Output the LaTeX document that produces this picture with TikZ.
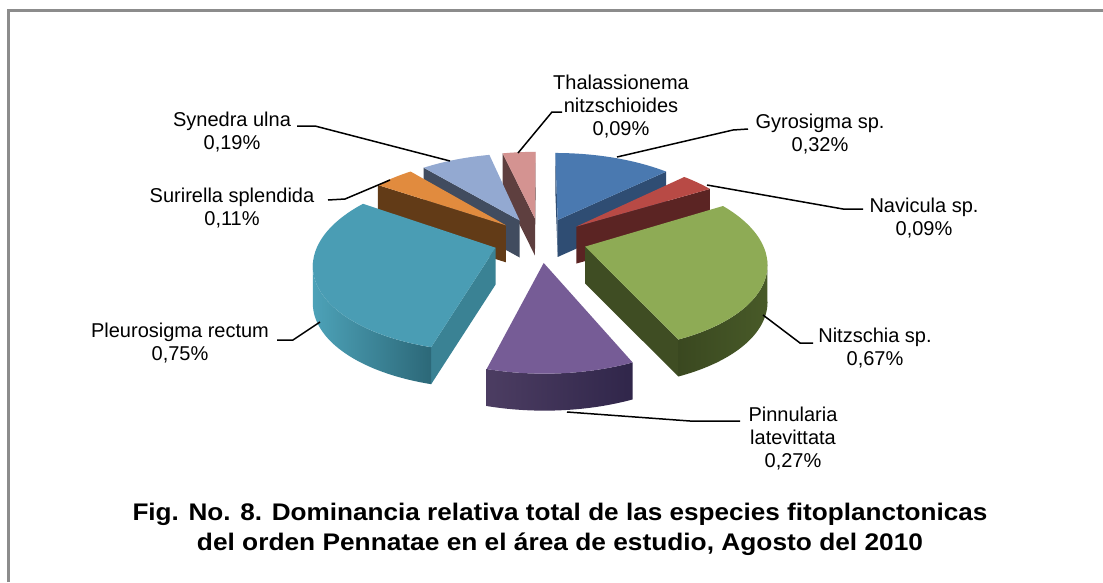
\documentclass[tikz,border=0pt]{standalone}
\usepackage{fontspec}
\setmainfont{Liberation Sans}
\usepackage{graphicx}
\definecolor{bluetop}{HTML}{4A79B0}
\definecolor{blueface}{HTML}{2F4D73}
\definecolor{redtop}{HTML}{B84A45}
\definecolor{redface}{HTML}{5B2423}
\definecolor{greentop}{HTML}{8EAB55}
\definecolor{greenface}{HTML}{3F4D23}
\definecolor{greenrimL}{HTML}{3A4820}
\definecolor{greenrimR}{HTML}{485A28}
\definecolor{purpletop}{HTML}{765C96}
\definecolor{purplerimL}{HTML}{4C3D62}
\definecolor{purplerimR}{HTML}{30264A}
\definecolor{tealtop}{HTML}{4A9DB4}
\definecolor{tealface}{HTML}{3A8294}
\definecolor{tealrimL}{HTML}{4DA2B8}
\definecolor{tealrimR}{HTML}{2C6878}
\definecolor{orangetop}{HTML}{E18B3E}
\definecolor{orangeface}{HTML}{623B17}
\definecolor{lbtop}{HTML}{93A9D1}
\definecolor{lbface}{HTML}{414C5F}
\definecolor{pinktop}{HTML}{D49391}
\definecolor{pinkface}{HTML}{5E3F3F}
\definecolor{framegray}{HTML}{8C8C8C}
\newcommand{\topface}[4]{%
  \fill[#4] ({pxx(0,0,#3)},{pyy(0,0,#3)}) -- plot[domain=#1:#2,samples=40] ({pxx(1,\x,#3)},{pyy(1,\x,#3)}) -- cycle;}
\newcommand{\radface}[3]{%
  \fill[#3] ({pxx(0,0,#2)},{pyy(0,0,#2)}) -- ({pxx(1,#1,#2)},{pyy(1,#1,#2)}) -- ({pxx(1,#1,#2)},{pyy(1,#1,#2)+37}) -- ({pxx(0,0,#2)},{pyy(0,0,#2)+37}) -- cycle;}
\newcommand{\rimface}[4]{%
  \shade[#4] plot[domain=#1:#2,samples=40] ({pxx(1,\x,#3)},{pyy(1,\x,#3)}) -- plot[domain=#2:#1,samples=40] ({pxx(1,\x,#3)},{pyy(1,\x,#3)+37}) -- cycle;}
\begin{document}
\begin{tikzpicture}[x=1pt,y=-1pt,
  declare function={
    pxx(\argr,\argt,\argm)=540+176*(0.266*cos(\argm)+\argr*cos(\argt))/(1+0.164*(0.266*sin(\argm)+\argr*sin(\argt)));
    pyy(\argr,\argt,\argm)=239.7-83.9*(0.266*sin(\argm)+\argr*sin(\argt))/(1+0.164*(0.266*sin(\argm)+\argr*sin(\argt)));
  },
  lbl/.style={font=\fontsize{20}{23}\selectfont, align=center, inner sep=0pt},
  leader/.style={draw=black, line width=1.5pt},
  captext/.style={font=\bfseries\fontsize{24}{28}\selectfont, inner sep=0pt}
]
\useasboundingbox[fill=white] (0,0) rectangle (1103,582);
% frame
\draw[framegray, line width=3pt] (8.5,582) -- (8.5,10.5) -- (1103,10.5);

% pink (Thalassionema)
\radface{103.01}{96.5}{pinkface}
\radface{90}{96.5}{pinkface}
\topface{103.01}{90}{96.5}{pinktop}
% blue (Gyrosigma)
\radface{90}{66.87}{blueface}
\radface{43.73}{66.87}{blueface}
\topface{90}{43.73}{66.87}{bluetop}
% light blue (Synedra)
\radface{130.48}{116.75}{lbface}
\topface{130.48}{103.01}{116.75}{lbtop}
% orange (Surirella)
\radface{146.38}{138.43}{orangeface}
\topface{146.38}{130.48}{138.43}{orangetop}
% red (Navicula)
\radface{30.72}{37.2}{redface}
\topface{43.73}{30.72}{37.2}{redtop}
% green (Nitzschia)
\radface{-66.15}{-17.7}{greenface}
\rimface{-66.15}{-9.5}{-17.7}{left color=greenrimL, right color=greenrimR}
\topface{30.72}{-66.15}{-17.7}{greentop}
% teal (Pleurosigma)
\radface{-105.19}{-159.4}{tealface}
\rimface{-170.5}{-105.19}{-159.4}{left color=tealrimL, right color=tealrimR}
\topface{-105.19}{-213.62}{-159.4}{tealtop}
% purple (Pinnularia)
\rimface{-105.19}{-66.15}{-85.67}{left color=purplerimL, right color=purplerimR}
\topface{-66.15}{-105.19}{-85.67}{purpletop}

% labels
\node[lbl] (tThal) at (621,107) {Thalassionema\\nitzschioides\\0,09\%};
\node[lbl] (tGyro) at (820,134) {Gyrosigma sp.\\0,32\%};
\node[lbl] (tNav) at (924,218) {Navicula sp.\\0,09\%};
\node[lbl] (tNitz) at (875,348) {Nitzschia sp.\\0,67\%};
\node[lbl] (tPinn) at (793,439) {Pinnularia\\latevittata\\0,27\%};
\node[lbl] (tPleu) at (180,343) {Pleurosigma rectum\\0,75\%};
\node[lbl] (tSuri) at (232,208) {Surirella splendida\\0,11\%};
\node[lbl] (tSyn) at (232,132) {Synedra ulna\\0,19\%};

% leader end points
\coordinate (lThal) at (562,112);
\coordinate (eThal) at (518,153);
\coordinate (lGyro) at (748,129);
\coordinate (eGyro) at (617,157);
\coordinate (lNav) at (863,209);
\coordinate (eNav) at (707,185);
\coordinate (lNitz) at (813,343);
\coordinate (eNitz) at (763,315);
\coordinate (lPinn) at (740,421);
\coordinate (ePinn) at (567,412);
\coordinate (lPleu) at (277,340);
\coordinate (ePleu) at (320,322);
\coordinate (lSuri) at (328,200);
\coordinate (eSuri) at (390,180);
\coordinate (lSyn) at (297,126);
\coordinate (eSyn) at (450,161);

\draw[leader] (lThal) -- ++(-10,0) -- (eThal);
\draw[leader] (lGyro) -- ++(-15,1) -- (eGyro);
\draw[leader] (lNav) -- ++(-20,0) -- (eNav);
\draw[leader] (lNitz) -- ++(-13,0) -- (eNitz);
\draw[leader] (lPinn) -- ++(-50,0) -- (ePinn);
\draw[leader] (lPleu) -- ++(16,0) -- (ePleu);
\draw[leader] (lSuri) -- ++(17,-1) -- (eSuri);
\draw[leader] (lSyn) -- ++(18,0) -- (eSyn);

% caption
\node[captext] (cap1) at (560,514) {\resizebox{855pt}{\height}{Fig. No. 8. Dominancia relativa total de las especies fitoplanctonicas}};
\node[captext] (cap2) at (560,544) {\resizebox{726pt}{\height}{del orden Pennatae en el área de estudio, Agosto del 2010}};
\end{tikzpicture}
\end{document}
